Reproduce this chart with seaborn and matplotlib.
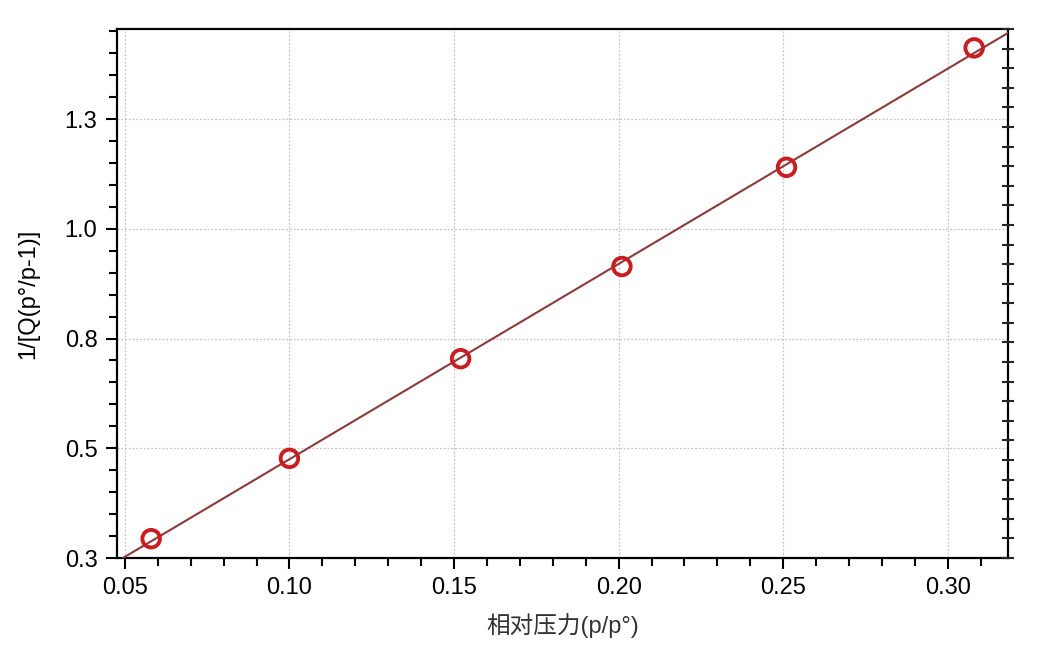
import numpy as np
import pandas as pd
import matplotlib
matplotlib.use("Agg")
import matplotlib.pyplot as plt
import seaborn as sns
from matplotlib.ticker import MultipleLocator, FixedLocator

# 데이터
rel_pressure = [0.058, 0.100, 0.152, 0.201, 0.251, 0.308]
inv_q = [0.294, 0.477, 0.704, 0.914, 1.140, 1.412]

y_ticks = [0.25, 0.50, 0.75, 1.00, 1.25]
y_tick_labels = ["0.3", "0.5", "0.8", "1.0", "1.3"]
x_ticks = [0.05, 0.10, 0.15, 0.20, 0.25, 0.30]
x_tick_labels = ["0.05", "0.10", "0.15", "0.20", "0.25", "0.30"]

xlim = (0.0476, 0.3182)
ylim = (0.25, 1.455)

sns.set_theme(style="ticks")
plt.rcParams["font.family"] = ["Liberation Sans", "Noto Sans CJK SC", "DejaVu Sans"]

df = pd.DataFrame({"x": rel_pressure, "y": inv_q})

# 선형 회귀선 (축 전체 범위로 연장)
slope, intercept = np.polyfit(df["x"], df["y"], 1)
fit_x = np.linspace(xlim[0] - 0.01, xlim[1] + 0.01, 50)
fit_df = pd.DataFrame({"x": fit_x, "y": slope * fit_x + intercept})

fig = plt.figure(figsize=(10.63, 6.67), dpi=100)
ax = fig.add_axes([0.110, 0.1634, 0.838, 0.7931])

sns.lineplot(data=fit_df, x="x", y="y", ax=ax, color="#8b3a3a", linewidth=1.5, zorder=3)
sns.scatterplot(data=df, x="x", y="y", ax=ax, marker="o", s=160,
                facecolor="none", edgecolor="#c81e22", linewidth=2.8, zorder=4)

ax.set_xlim(*xlim)
ax.set_ylim(*ylim)

ax.xaxis.set_major_locator(FixedLocator(x_ticks))
ax.set_xticklabels(x_tick_labels)
ax.xaxis.set_minor_locator(MultipleLocator(0.01))
ax.yaxis.set_major_locator(FixedLocator(y_ticks))
ax.set_yticklabels(y_tick_labels)
ax.yaxis.set_minor_locator(MultipleLocator(0.05))

ax.tick_params(which="both", direction="out", width=1.5, colors="black",
               top=False, right=False)
ax.tick_params(which="major", length=8, labelsize=17, pad=6)
ax.tick_params(which="minor", length=6)

for side in ["left", "right", "top", "bottom"]:
    ax.spines[side].set_visible(True)
    ax.spines[side].set_color("black")
    ax.spines[side].set_linewidth(1.6)

ax.grid(True, which="major", color="#c4c4c4", linestyle=(0, (1.5, 1.5)), linewidth=0.9)

ax.set_xlabel("相对压力(p/p°)", fontsize=17, color="#333333", labelpad=10)
ax.set_ylabel("1/[Q(p°/p-1)]", fontsize=17, color="black", labelpad=18)

# 오른쪽 축: 라벨 없는 눈금
ax2 = ax.twinx()
ax2.set_ylim(0, 27)
ax2.yaxis.set_major_locator(MultipleLocator(1))
ax2.tick_params(axis="y", direction="inout", length=9, width=1.5, labelright=False)
for side in ["left", "right", "top", "bottom"]:
    ax2.spines[side].set_visible(False)

fig.savefig("out.png", dpi=100)
